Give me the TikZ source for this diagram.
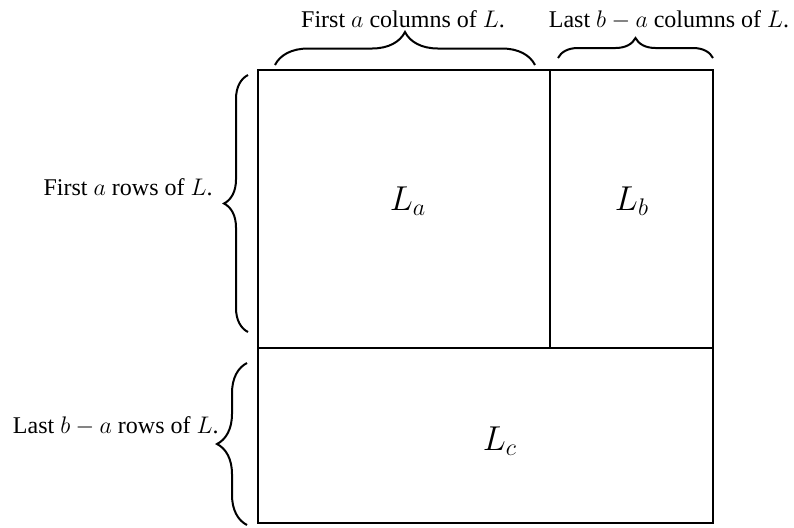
\documentclass[tikz,border=0pt]{standalone}
\usepackage{fontspec}
\setmainfont{Liberation Serif}
\usetikzlibrary{decorations.pathreplacing}
\begin{document}
\begin{tikzpicture}[x=0.5pt,y=-0.5pt,
  box/.style={draw=black,line width=1pt},
  bracestyle/.style={draw=black,line width=1pt,decorate},
  lbl/.style={font=\fontsize{12}{14}\selectfont,inner sep=0pt},
  blocklbl/.style={font=\fontsize{18}{22}\selectfont,inner sep=0pt}]
\useasboundingbox (0,0) rectangle (794,527);
% main blocks
\coordinate (tl) at (258,70);
\coordinate (tm) at (550,70);
\coordinate (tr) at (713,70);
\coordinate (ml) at (258,348);
\coordinate (mm) at (550,348);
\coordinate (mr) at (713,348);
\coordinate (bl) at (258,523);
\coordinate (br) at (713,523);
\draw[box] (tl) rectangle (br);
\draw[box] (tm) -- (mm);
\draw[box] (ml) -- (mr);
\node[blocklbl] (La) at (408,201) {$L_a$};
\node[blocklbl] (Lb) at (632,201) {$L_b$};
\node[blocklbl] (Lc) at (500,441) {$L_c$};
% braces
\coordinate (b1s) at (275,65);
\coordinate (b1e) at (535,65);
\coordinate (b2s) at (558,58);
\coordinate (b2e) at (713,58);
\coordinate (b3s) at (248,332);
\coordinate (b3e) at (248,75);
\coordinate (b4s) at (247,525);
\coordinate (b4e) at (247,363);
\draw[bracestyle,decoration={brace,amplitude=16.5pt}] (b1s) -- (b1e);
\draw[bracestyle,decoration={brace,amplitude=10pt}] (b2s) -- (b2e);
\draw[bracestyle,decoration={brace,amplitude=12pt}] (b3s) -- (b3e);
\draw[bracestyle,decoration={brace,amplitude=15pt}] (b4s) -- (b4e);
% labels
\node[lbl] (t1) at (403,19) {First $a$ columns of $L$.};
\node[lbl] (t2) at (669,20) {Last $b-a$ columns of $L$.};
\node[lbl,anchor=east] (t3) at (213,187) {First $a$ rows of $L$.};
\node[lbl,anchor=east] (t4) at (219,426) {Last $b-a$ rows of $L$.};
\end{tikzpicture}
\end{document}
